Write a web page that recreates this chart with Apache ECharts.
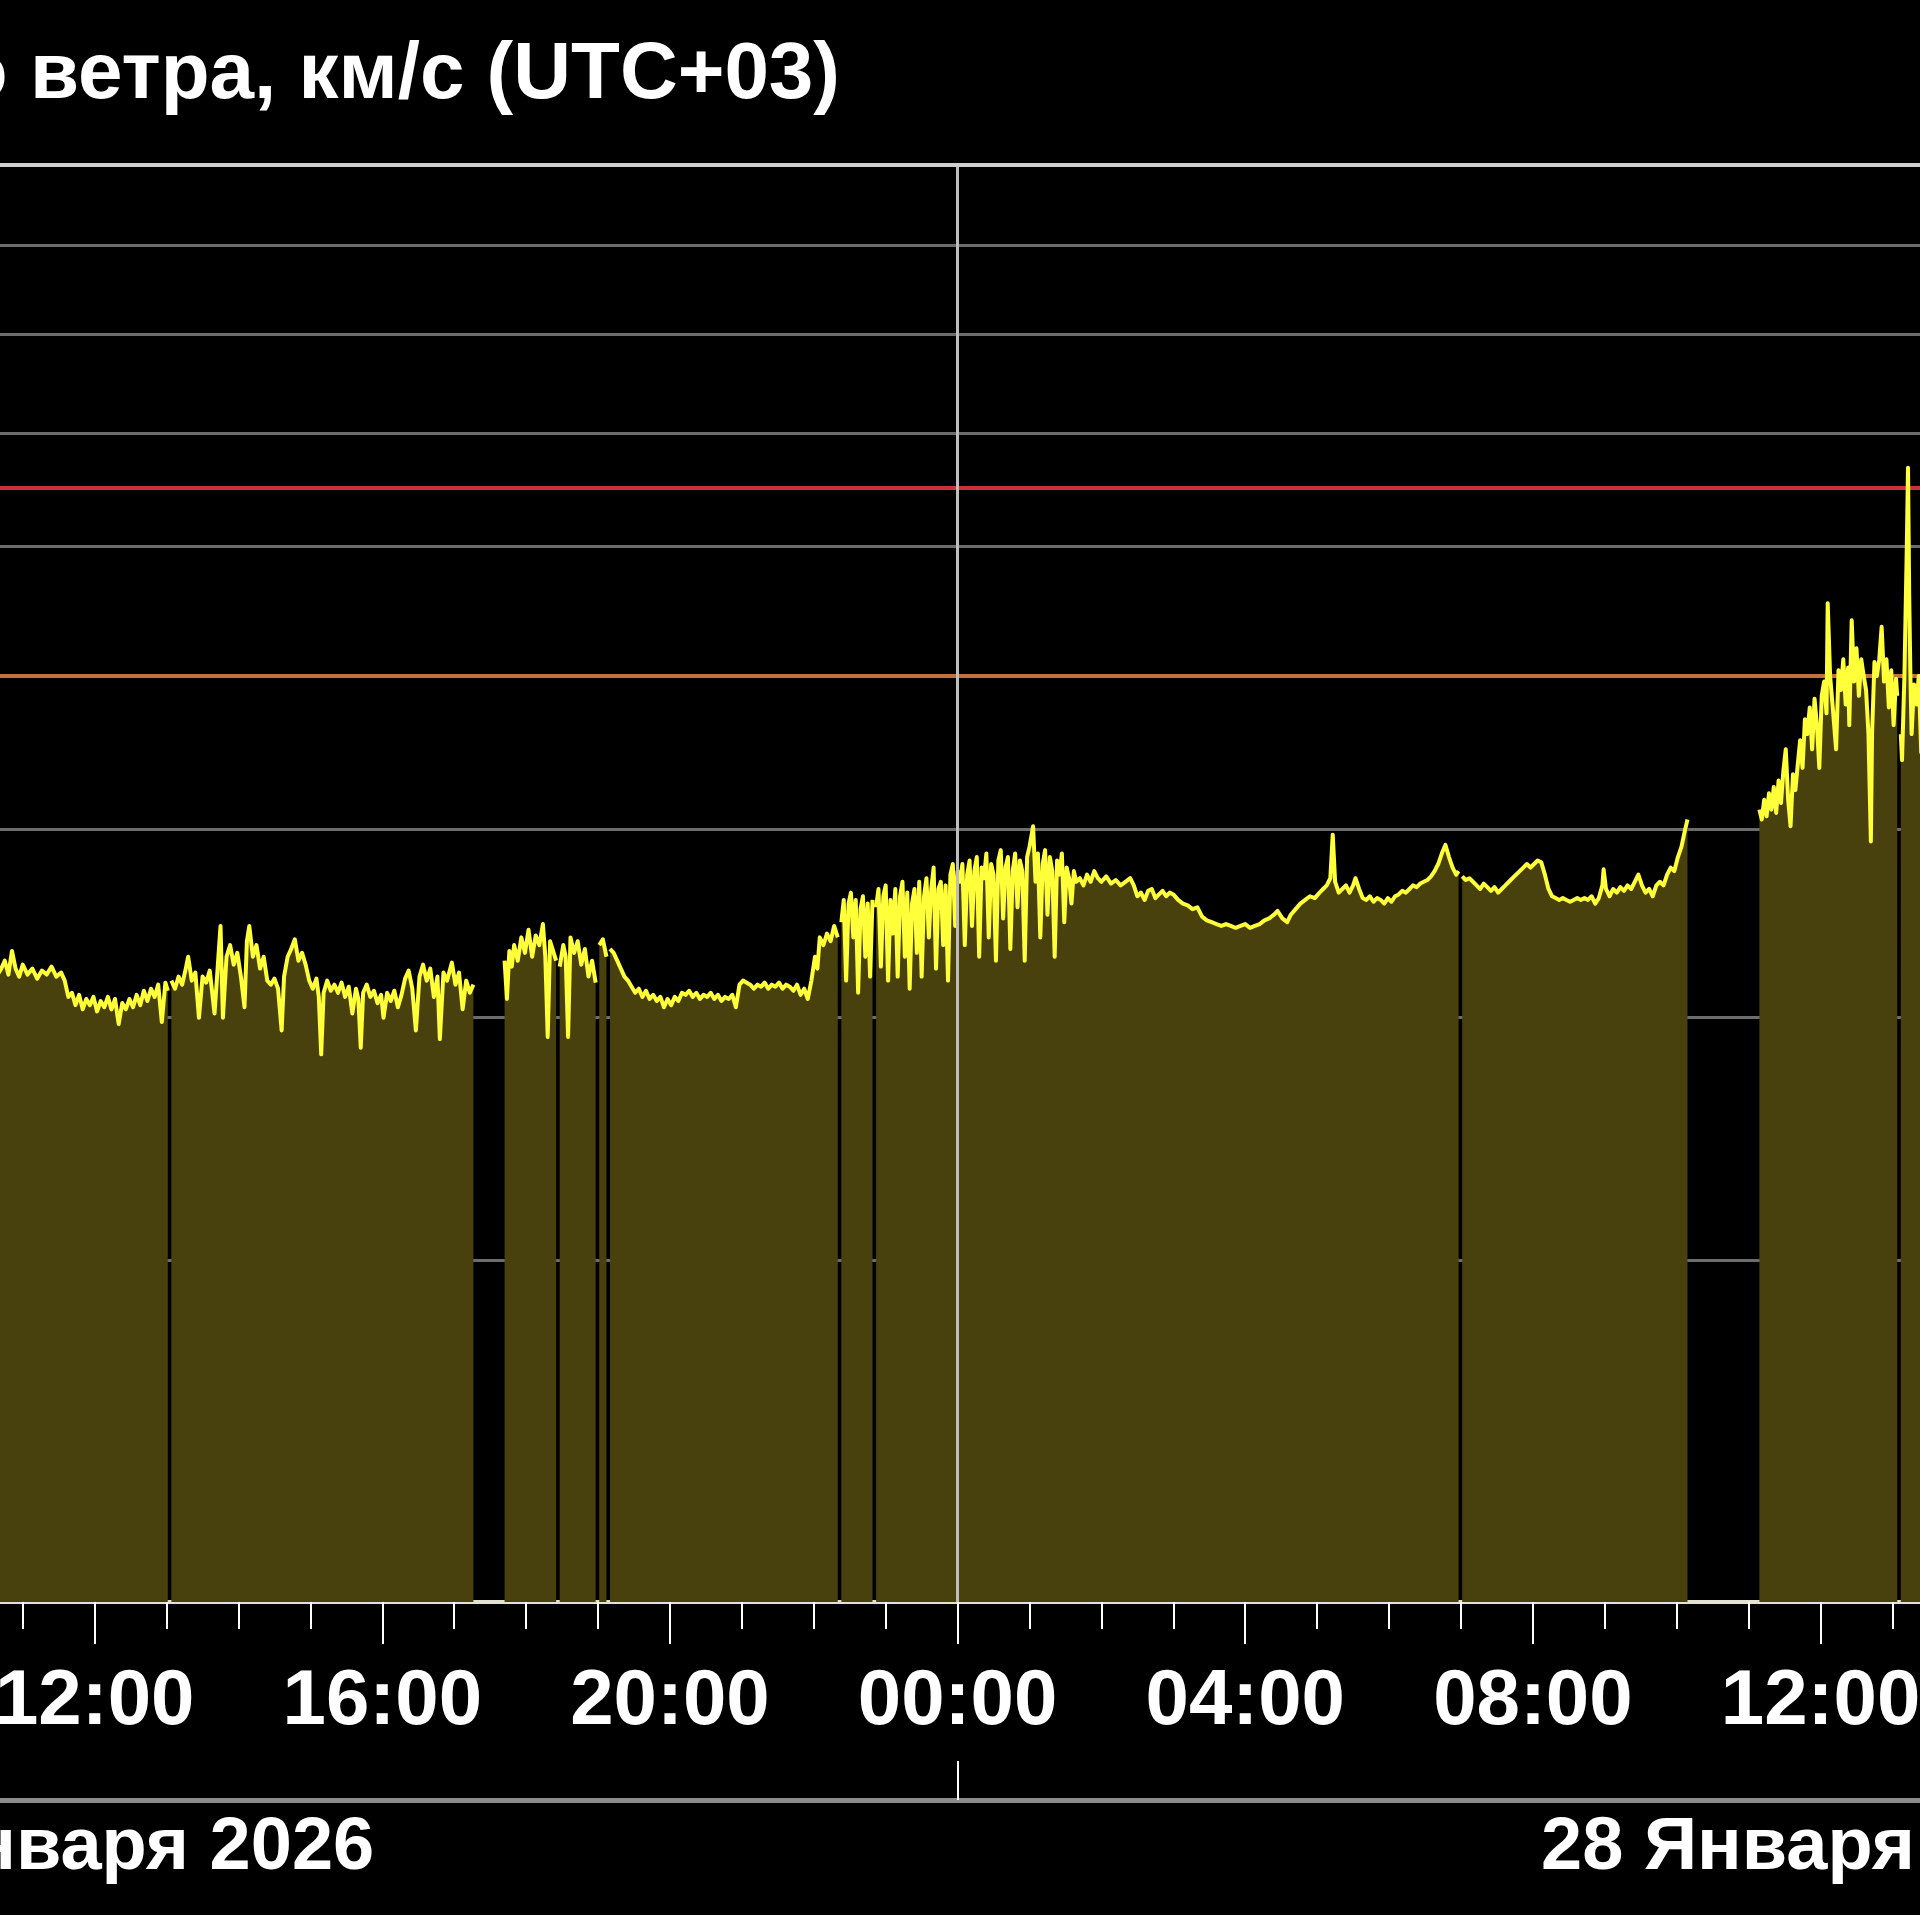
<!DOCTYPE html>
<html><head><meta charset="utf-8">
<script src="https://cdn.jsdelivr.net/npm/echarts@6/dist/echarts.min.js"></script>
<style>html,body{margin:0;padding:0;background:#000;}#c{width:1920px;height:1915px;}</style>
</head><body><div id="c"></div>
<script>
const titleText = 'Скорость солнечного ветра, км/с (UTC+03)';
const xRange = ['27 10:41', '28 13:23'];
const yRange = [200, 1100];
const gridLevels = [300, 400, 500, 600, 700, 800, 900, 1000];
const orangeLevel = 600;
const redLevel = 750;
const majorTickTimes = ['27 12:00','27 16:00','27 20:00','28 00:00','28 04:00','28 08:00','28 12:00'];
const majorTickLabels = ['12:00','16:00','20:00','00:00','04:00','08:00','12:00'];
const minorTickTimes = ['27 11:00','27 12:00','27 13:00','27 14:00','27 15:00','27 16:00','27 17:00','27 18:00','27 19:00','27 20:00','27 21:00','27 22:00','27 23:00','28 00:00','28 01:00','28 02:00','28 03:00','28 04:00','28 05:00','28 06:00','28 07:00','28 08:00','28 09:00','28 10:00','28 11:00','28 12:00','28 13:00'];
const dayLabelTimes = ['27 12:00','28 12:00'];
const dayLabels = ['27 Января 2026','28 Января 2026'];
const dayBoundaryTimes = ['28 00:00'];

// solar wind speed, km/s — contiguous data segments (gaps between them)
const seg1 = [['27 10:38',420],['27 10:42',424],['27 10:45',428],['27 10:48',421],['27 10:51',433],['27 10:54',424],['27 10:57',420],['27 11:00',426],['27 11:04',421],['27 11:08',424],['27 11:12',419],['27 11:16',423],['27 11:20',421],['27 11:24',425],['27 11:28',420],['27 11:32',422],['27 11:35',418],['27 11:38',410],['27 11:41',412],['27 11:44',406],['27 11:47',411],['27 11:50',404],['27 11:53',409],['27 11:56',406],['27 11:59',410],['27 12:02',403],['27 12:05',408],['27 12:08',405],['27 12:11',410],['27 12:14',404],['27 12:17',409],['27 12:20',397],['27 12:23',407],['27 12:26',404],['27 12:29',409],['27 12:32',405],['27 12:35',411],['27 12:38',406],['27 12:41',413],['27 12:44',408],['27 12:47',414],['27 12:50',410],['27 12:53',416],['27 12:56',398],['27 12:59',417],['27 13:01',413]];
const seg2 = [['27 13:04',418],['27 13:07',414],['27 13:10',420],['27 13:13',416],['27 13:16',424],['27 13:18',430],['27 13:21',418],['27 13:24',422],['27 13:27',400],['27 13:30',420],['27 13:33',417],['27 13:36',423],['27 13:40',402],['27 13:43',428],['27 13:45',446],['27 13:47',400],['27 13:50',430],['27 13:53',436],['27 13:56',426],['27 13:59',432],['27 14:02',420],['27 14:05',405],['27 14:07',438],['27 14:09',446],['27 14:12',430],['27 14:15',436],['27 14:18',424],['27 14:21',430],['27 14:24',418],['27 14:27',416],['27 14:30',419],['27 14:33',414],['27 14:36',394],['27 14:38',420],['27 14:41',430],['27 14:44',434],['27 14:47',439],['27 14:50',428],['27 14:53',432],['27 14:56',426],['27 14:59',418],['27 15:02',414],['27 15:05',419],['27 15:07',410],['27 15:09',383],['27 15:11',412],['27 15:14',418],['27 15:17',413],['27 15:20',416],['27 15:23',412],['27 15:26',417],['27 15:29',410],['27 15:32',415],['27 15:35',402],['27 15:38',414],['27 15:40',409],['27 15:42',386],['27 15:44',412],['27 15:47',416],['27 15:50',410],['27 15:53',413],['27 15:56',407],['27 15:59',411],['27 16:01',400],['27 16:04',412],['27 16:07',408],['27 16:10',413],['27 16:13',405],['27 16:16',411],['27 16:19',419],['27 16:22',423],['27 16:25',414],['27 16:28',394],['27 16:31',420],['27 16:34',426],['27 16:37',418],['27 16:40',424],['27 16:43',410],['27 16:46',420],['27 16:48',390],['27 16:51',422],['27 16:54',418],['27 16:58',427],['27 17:01',416],['27 17:04',422],['27 17:07',404],['27 17:10',418],['27 17:13',412],['27 17:16',416]];
const seg3 = [['27 17:42',428],['27 17:44',409],['27 17:46',433],['27 17:48',425],['27 17:50',436],['27 17:53',428],['27 17:56',440],['27 17:59',432],['27 18:02',444],['27 18:05',430],['27 18:08',441],['27 18:11',436],['27 18:14',447],['27 18:16',430],['27 18:18',391],['27 18:20',438],['27 18:23',432],['27 18:25',428]];
const seg4 = [['27 18:28',425],['27 18:31',436],['27 18:33',430],['27 18:35',391],['27 18:37',440],['27 18:40',432],['27 18:43',438],['27 18:46',426],['27 18:49',434],['27 18:52',420],['27 18:55',428],['27 18:58',417]];
const seg5 = [['27 19:01',436],['27 19:04',439],['27 19:07',430]];
const seg6 = [['27 19:10',434],['27 19:13',432],['27 19:16',428],['27 19:19',424],['27 19:22',420],['27 19:25',418],['27 19:28',415],['27 19:31',412],['27 19:34',414],['27 19:37',410],['27 19:40',413],['27 19:43',409],['27 19:46',411],['27 19:49',408],['27 19:52',410],['27 19:55',405],['27 19:58',409],['27 20:01',406],['27 20:04',410],['27 20:07',408],['27 20:10',412],['27 20:13',411],['27 20:16',413],['27 20:19',410],['27 20:22',412],['27 20:25',409],['27 20:28',411],['27 20:31',410],['27 20:34',412],['27 20:37',409],['27 20:40',411],['27 20:43',408],['27 20:46',410],['27 20:49',409],['27 20:52',411],['27 20:55',405],['27 20:58',416],['27 21:01',418],['27 21:04',417],['27 21:07',416],['27 21:10',414],['27 21:13',416],['27 21:16',415],['27 21:19',417],['27 21:22',414],['27 21:25',416],['27 21:28',415],['27 21:31',417],['27 21:34',414],['27 21:37',416],['27 21:40',415],['27 21:43',413],['27 21:46',416],['27 21:49',411],['27 21:52',414],['27 21:55',409],['27 21:58',418],['27 22:01',430],['27 22:03',424],['27 22:05',440],['27 22:08',436],['27 22:11',442],['27 22:14',438],['27 22:17',446],['27 22:20',440]];
const seg7 = [['27 22:23',448],['27 22:25',460],['27 22:27',418],['27 22:29',458],['27 22:31',464],['27 22:33',440],['27 22:35',460],['27 22:37',412],['27 22:39',455],['27 22:41',462],['27 22:43',430],['27 22:45',458],['27 22:47',420],['27 22:49',460]];
const seg8 = [['27 22:52',456],['27 22:54',466],['27 22:56',425],['27 22:58',462],['27 23:00',468],['27 23:02',418],['27 23:04',460],['27 23:06',442],['27 23:08',466],['27 23:10',420],['27 23:12',462],['27 23:14',470],['27 23:16',430],['27 23:18',464],['27 23:20',414],['27 23:22',458],['27 23:24',466],['27 23:26',432],['27 23:28',470],['27 23:30',420],['27 23:32',462],['27 23:34',472],['27 23:36',440],['27 23:38',466],['27 23:40',478],['27 23:42',424],['27 23:44',466],['27 23:46',470],['27 23:48',436],['27 23:50',468],['27 23:52',418],['27 23:54',474],['27 23:56',480],['27 23:58',446],
 ['28 00:00',476],['28 00:02',470],['28 00:04',480],['28 00:06',436],['28 00:08',474],['28 00:10',482],['28 00:12',446],['28 00:14',476],['28 00:16',484],['28 00:18',430],['28 00:20',478],['28 00:22',472],['28 00:24',486],['28 00:26',440],['28 00:28',480],['28 00:30',474],['28 00:32',428],['28 00:34',482],['28 00:36',488],['28 00:38',450],['28 00:40',478],['28 00:42',484],['28 00:44',434],['28 00:46',476],['28 00:48',486],['28 00:50',456],['28 00:52',482],['28 00:54',476],['28 00:56',428],['28 00:58',484],['28 01:00',490],['28 01:03',502],['28 01:05',470],['28 01:07',486],['28 01:09',440],['28 01:11',480],['28 01:13',488],['28 01:15',452],['28 01:17',484],['28 01:19',476],['28 01:21',430],['28 01:23',482],['28 01:25',474],['28 01:27',486],['28 01:29',448],['28 01:31',478],['28 01:33',472],['28 01:35',458],['28 01:37',476],['28 01:39',470],
 ['28 01:42',472],['28 01:45',468],['28 01:48',474],['28 01:51',470],['28 01:54',476],['28 01:57',472],['28 02:00',470],['28 02:04',473],['28 02:08',469],['28 02:12',471],['28 02:16',468],['28 02:20',470],['28 02:24',472],['28 02:27',468],['28 02:30',462],['28 02:33',464],['28 02:36',460],['28 02:39',465],['28 02:42',466],['28 02:45',461],['28 02:48',463],['28 02:51',465],['28 02:54',462],['28 02:57',464],['28 03:00',463],['28 03:04',460],['28 03:08',458],['28 03:12',457],['28 03:16',455],['28 03:20',456],['28 03:24',451],['28 03:28',449],['28 03:32',448],['28 03:36',447],['28 03:40',446],['28 03:44',447],['28 03:48',446],['28 03:52',445],['28 03:56',446],['28 04:00',447],['28 04:04',445],['28 04:08',446],['28 04:12',447],['28 04:16',449],['28 04:20',450],['28 04:24',452],['28 04:27',454],['28 04:31',450],['28 04:35',448],['28 04:38',452],['28 04:42',455],['28 04:46',458],['28 04:50',460],['28 04:54',462],['28 04:58',461],['28 05:02',464],['28 05:05',466],['28 05:08',468],['28 05:11',472],['28 05:13',497],['28 05:15',470],['28 05:18',464],['28 05:21',466],['28 05:24',468],['28 05:27',464],['28 05:30',468],['28 05:32',472],['28 05:35',466],['28 05:38',461],['28 05:41',460],['28 05:44',462],['28 05:47',459],['28 05:50',461],['28 05:53',460],['28 05:56',458],['28 05:59',461],['28 06:02',459],['28 06:05',462],['28 06:08',463],['28 06:11',465],['28 06:14',464],['28 06:17',466],['28 06:20',468],['28 06:23',467],['28 06:26',469],['28 06:29',470],['28 06:32',471],['28 06:35',473],['28 06:38',476],['28 06:41',480],['28 06:44',486],['28 06:47',491],['28 06:50',484],['28 06:53',478],['28 06:56',474],['28 06:58',476]];
const seg9 = [['28 07:01',473],['28 07:04',471],['28 07:07',472],['28 07:10',470],['28 07:13',468],['28 07:16',466],['28 07:19',469],['28 07:22',467],['28 07:25',465],['28 07:28',467],['28 07:31',464],['28 07:34',466],['28 07:37',468],['28 07:40',470],['28 07:43',472],['28 07:46',474],['28 07:49',476],['28 07:52',478],['28 07:55',480],['28 07:58',478],['28 08:01',480],['28 08:04',482],['28 08:07',481],['28 08:10',474],['28 08:13',466],['28 08:16',462],['28 08:19',461],['28 08:22',460],['28 08:25',461],['28 08:28',460],['28 08:31',459],['28 08:34',460],['28 08:37',461],['28 08:40',460],['28 08:43',461],['28 08:46',460],['28 08:49',462],['28 08:52',458],['28 08:55',461],['28 08:58',468],['28 08:59',477],['28 09:01',466],['28 09:04',462],['28 09:07',466],['28 09:10',464],['28 09:13',467],['28 09:16',465],['28 09:19',468],['28 09:22',466],['28 09:25',470],['28 09:28',474],['28 09:31',468],['28 09:34',464],['28 09:37',466],['28 09:40',462],['28 09:43',468],['28 09:46',470],['28 09:49',468],['28 09:52',474],['28 09:55',478],['28 09:58',476],['28 10:01',484],['28 10:04',490],['28 10:07',500],['28 10:09',506]];
const seg10 = [['28 11:09',512],['28 11:11',506],['28 11:13',518],['28 11:15',508],['28 11:17',522],['28 11:19',512],['28 11:21',526],['28 11:23',510],['28 11:25',530],['28 11:27',516],['28 11:29',536],['28 11:31',550],['28 11:33',518],['28 11:35',502],['28 11:37',534],['28 11:39',524],['28 11:41',540],['28 11:43',556],['28 11:45',538],['28 11:47',570],['28 11:49',560],['28 11:51',578],['28 11:53',550],['28 11:55',584],['28 11:57',566],['28 11:59',538],['28 12:01',586],['28 12:03',596],['28 12:05',574],['28 12:06',654],['28 12:08',600],['28 12:10',580],['28 12:13',550],['28 12:15',604],['28 12:17',590],['28 12:19',612],['28 12:21',580],['28 12:23',606],['28 12:24',566],['28 12:26',641],['28 12:28',596],['28 12:30',620],['28 12:32',586],['28 12:34',612],['28 12:36',600],['28 12:38',590],['28 12:40',560],['28 12:42',493],['28 12:43',560],['28 12:45',610],['28 12:47',600],['28 12:49',612],['28 12:51',636],['28 12:53',596],['28 12:55',612],['28 12:57',578],['28 12:59',604],['28 13:01',566],['28 13:03',598],['28 13:04',586]];
const seg11 = [['28 13:07',560],['28 13:08',543],['28 13:10',600],['28 13:12',700],['28 13:13',768],['28 13:14',660],['28 13:15',600],['28 13:16',560],['28 13:18',594],['28 13:20',580],['28 13:22',600],['28 13:24',548],['28 13:26',590]];

const segments = [seg1, seg2, seg3, seg4, seg5, seg6, seg7, seg8, seg9, seg10, seg11];

function t(s) {
  const [d, hm] = s.split(' ');
  const [h, m] = hm.split(':');
  return Date.UTC(2026, 0, +d, +h, +m);
}

const seriesData = [];
segments.forEach((seg, i) => {
  if (i > 0) {
    const prev = segments[i - 1];
    const gapAt = (t(prev[prev.length - 1][0]) + t(seg[0][0])) / 2;
    seriesData.push([gapAt, null]);
  }
  seg.forEach(p => seriesData.push([t(p[0]), p[1]]));
});

const majorMs = majorTickTimes.map(t);
const minorMs = minorTickTimes.map(t);
const dayMs = dayLabelTimes.map(t);
const boundaryMs = dayBoundaryTimes.map(t);
const FONT = '"Liberation Sans", Arial, sans-serif';
const xMin = t(xRange[0]), xMax = t(xRange[1]);

const chart = echarts.init(document.getElementById('c'), null, {renderer: 'canvas'});
chart.setOption({
  backgroundColor: '#000000',
  animation: false,
  title: {
    text: titleText,
    right: 1075,
    top: 31,
    textStyle: {color: '#ffffff', fontSize: 80, fontWeight: 'bold', fontFamily: FONT}
  },
  grid: {left: 0, right: 0, top: 165, bottom: 313, containLabel: false, outerBoundsMode: 'none'},
  xAxis: [
    {
      type: 'value', position: 'bottom', min: xMin, max: xMax, scale: true,
      axisLine: {show: true, lineStyle: {color: '#e2e2d2', width: 4}},
      axisTick: {show: true, customValues: majorMs, length: 42, lineStyle: {color: '#ffffff', width: 2}},
      axisLabel: {
        show: true, customValues: majorMs, margin: 61,
        color: '#ffffff', fontSize: 78, fontWeight: 'bold', fontFamily: FONT,
        formatter: v => majorTickLabels[majorMs.indexOf(v)]
      },
      splitLine: {show: false}
    },
    {
      type: 'value', position: 'bottom', min: xMin, max: xMax, scale: true,
      axisLine: {show: false},
      axisTick: {show: true, customValues: minorMs, length: 27, lineStyle: {color: '#ffffff', width: 2}},
      axisLabel: {show: false},
      splitLine: {show: false}
    },
    {
      type: 'value', position: 'bottom', offset: 198, min: xMin, max: xMax, scale: true,
      axisLine: {show: true, lineStyle: {color: '#8c8c8c', width: 5}},
      axisTick: {show: true, inside: true, customValues: boundaryMs, length: 39, lineStyle: {color: '#ffffff', width: 2}},
      axisLabel: {
        show: true, customValues: dayMs, margin: 12,
        color: '#ffffff', fontSize: 74, fontWeight: 'bold', fontFamily: FONT,
        formatter: v => dayLabels[dayMs.indexOf(v)]
      },
      splitLine: {show: false}
    }
  ],
  yAxis: {
    type: 'log', logBase: 10, min: yRange[0], max: yRange[1],
    axisLine: {show: false}, axisTick: {show: false}, axisLabel: {show: false}, splitLine: {show: false}
  },
  series: [
    {
      type: 'line', name: 'grid', data: [], z: 1, silent: true,
      markLine: {
        silent: true, symbol: 'none', z: 1, label: {show: false}, animation: false,
        data: gridLevels.map(v => ({yAxis: v, lineStyle: {color: '#6c6c6c', width: 3, type: 'solid'}}))
          .concat([
            {yAxis: orangeLevel, lineStyle: {color: '#c4703c', width: 4, type: 'solid'}},
            {yAxis: redLevel, lineStyle: {color: '#cc3038', width: 4, type: 'solid'}}
          ])
      }
    },
    {
      type: 'line', name: 'speed', data: seriesData, z: 3,
      showSymbol: false, connectNulls: false, smooth: false,
      lineStyle: {color: '#ffff3a', width: 4, join: 'round'},
      areaStyle: {color: '#49410d', opacity: 1, origin: 'start'},
      markLine: {
        silent: true, symbol: 'none', label: {show: false}, animation: false,
        data: [
          {xAxis: boundaryMs[0], lineStyle: {color: '#bdbdbd', width: 3, type: 'solid'}},
          {yAxis: yRange[1], lineStyle: {color: '#cfcfcf', width: 4, type: 'solid'}}
        ]
      }
    }
  ]
});
</script>
</body></html>
